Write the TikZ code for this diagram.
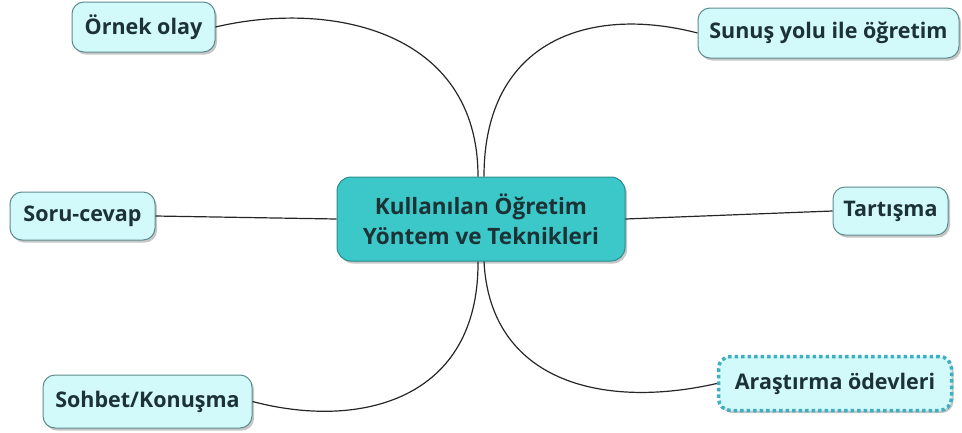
\documentclass[tikz,border=0pt]{standalone}
\usepackage{fontspec}
\setmainfont{Open Sans}
\usetikzlibrary{shadows}
\definecolor{leaffill}{HTML}{D2FAFA}
\definecolor{leafdraw}{HTML}{5E8C90}
\definecolor{cenfill}{HTML}{3CC8C8}
\definecolor{cendraw}{HTML}{2A8C8E}
\definecolor{txt}{HTML}{1C3236}
\definecolor{dotdraw}{HTML}{3EAFC0}
\tikzset{
  leaf/.style={draw=leafdraw, fill=leaffill, line width=1pt, rounded corners=12pt,
    text=txt, font=\fontsize{21.5}{24}\selectfont\bfseries, inner sep=0pt,
    drop shadow={shadow xshift=2pt, shadow yshift=-2.5pt, opacity=0.45}},
  centre/.style={draw=cendraw, fill=cenfill, line width=1pt, rounded corners=14pt,
    text=txt, font=\fontsize{22.5}{30}\selectfont\bfseries, align=center, inner sep=0pt,
    drop shadow={shadow xshift=2pt, shadow yshift=-2.5pt, opacity=0.45}},
  dotleaf/.style={leaf, draw=dotdraw, line width=3.5pt, dash pattern=on 3.5pt off 3pt},
  link/.style={draw=black!85, line width=1.2pt}
}
\begin{document}
\begin{tikzpicture}[x=1pt,y=-1pt]
\useasboundingbox (0,0) rectangle (962,432);
\node[centre, minimum width=288, minimum height=84] (cen) at (481,219) {Kullanılan Öğretim\\Yöntem ve Teknikleri};
\node[leaf, minimum width=143, minimum height=50] (orn) at (143.5,27) {Örnek olay};
\node[leaf, minimum width=261, minimum height=50] (sun) at (828.5,33) {Sunuş yolu ile öğretim};
\node[leaf, minimum width=145, minimum height=48] (sor) at (82.5,216) {Soru-cevap};
\node[leaf, minimum width=115, minimum height=48] (tar) at (890.5,211) {Tartışma};
\node[leaf, minimum width=209, minimum height=53] (soh) at (147.5,401.5) {Sohbet/Konuşma};
\node[dotleaf, minimum width=233, minimum height=54] (ara) at (835,383.5) {Araştırma ödevleri};
\coordinate (ctl) at ([xshift=-3pt]cen.north);
\coordinate (ctr) at ([xshift=3pt]cen.north);
\coordinate (cbl) at ([xshift=-3pt]cen.south);
\coordinate (cbr) at ([xshift=3pt]cen.south);
\path[link] (orn.east) .. controls (330,0) and (478,30) .. (ctl);
\path[link] (ctr) .. controls (484,40) and (590,5) .. (sun.west);
\path[link] (sor.east) -- (cen.west);
\path[link] (cen.east) -- (tar.west);
\path[link] (cbl) .. controls (479,400) and (360,430) .. (soh.east);
\path[link] (cbr) .. controls (490,380) and (600,410) .. (ara.west);
\end{tikzpicture}
\end{document}
